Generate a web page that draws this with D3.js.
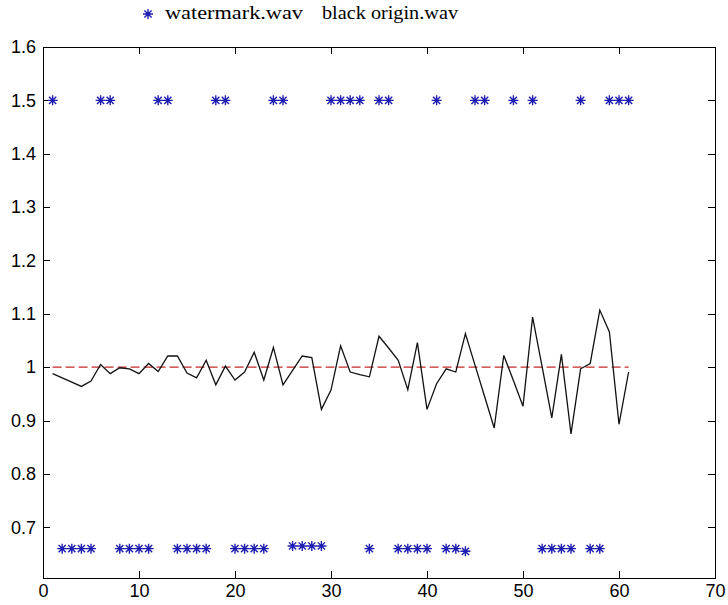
<!DOCTYPE html>
<html>
<head>
<meta charset="utf-8">
<script src="https://cdn.jsdelivr.net/npm/d3@7"></script>
<style>
  body { margin: 0; background: #fff; }
  .tick text { font-family: "Liberation Sans", Arial, sans-serif; font-size: 18px; fill: #000; }
</style>
</head>
<body>
<div id="chart"></div>
<script>
// black curve: one value per frame, frames 1..61
const ratio = [
  0.988, 0.980, 0.972, 0.964, 0.974, 1.005, 0.988, 0.999, 0.997, 0.988,
  1.007, 0.992, 1.021, 1.021, 0.989, 0.980, 1.013, 0.967, 1.002, 0.976,
  0.991, 1.028, 0.976, 1.037, 0.967, 0.994, 1.021, 1.018, 0.921, 0.957,
  1.040, 0.991, 0.986, 0.982, 1.058, 1.036, 1.013, 0.958, 1.046, 0.921,
  0.969, 0.997, 0.991, 1.063, 1.004, 0.945, 0.886, 1.022, 0.975, 0.927,
  1.094, 1.000, 0.905, 1.024, 0.875, 0.997, 1.007, 1.107, 1.066, 0.893,
  0.991
];
// red reference line
const refLevel = 1.0;
const refStart = 1, refEnd = 61;

// blue stars (upper row)
const topStarX = [1, 6, 7, 12, 13, 18, 19, 24, 25, 30, 31, 32, 33, 35, 36, 41, 45, 46, 49, 51, 56, 59, 60, 61];
const topStarY = 1.5;
// blue stars (lower row)
const bottomStarX = [2, 3, 4, 5, 8, 9, 10, 11, 14, 15, 16, 17, 20, 21, 22, 23, 26, 27, 28, 29, 34, 37, 38, 39, 40, 42, 43, 44, 52, 53, 54, 55, 57, 58];
const bottomStarY = [0.66, 0.66, 0.66, 0.66, 0.66, 0.66, 0.66, 0.66, 0.66, 0.66, 0.66, 0.66, 0.66, 0.66, 0.66, 0.66,
  0.665, 0.665, 0.665, 0.665, 0.66, 0.66, 0.66, 0.66, 0.66, 0.66, 0.66, 0.655, 0.66, 0.66, 0.66, 0.66, 0.66, 0.66];

const xTicks = [0, 10, 20, 30, 40, 50, 60, 70];
const yTicks = [0.7, 0.8, 0.9, 1, 1.1, 1.2, 1.3, 1.4, 1.5, 1.6];
const legendLabels = ["watermark.wav", "black origin.wav"];

let width = 728,
  height = 605;
let margin = { top: 47, right: 13, bottom: 27, left: 43 };

let svg = d3
  .select("#chart")
  .append("svg")
  .attr("width", width)
  .attr("height", height);

let x = d3.scaleLinear().domain([0, 70]).range([margin.left, width - margin.right]);
let y = d3.scaleLinear().domain([0.605, 1.6]).range([height - margin.bottom, margin.top]);

// axes box, ticks pointing inward like matlab
svg
  .append("g")
  .attr("transform", `translate(0,${height - margin.bottom})`)
  .call(d3.axisBottom(x).tickValues(xTicks).tickSize(-7).tickSizeOuter(0).tickPadding(6).tickFormat(d3.format("d")));
svg
  .append("g")
  .attr("transform", `translate(0,${margin.top})`)
  .call(d3.axisTop(x).tickValues(xTicks).tickSize(-7).tickSizeOuter(0).tickFormat(""));
svg
  .append("g")
  .attr("transform", `translate(${margin.left},0)`)
  .call(d3.axisLeft(y).tickValues(yTicks).tickSize(-7).tickSizeOuter(0).tickPadding(7).tickFormat((d) => String(+d.toFixed(1))));
svg
  .append("g")
  .attr("transform", `translate(${width - margin.right},0)`)
  .call(d3.axisRight(y).tickValues(yTicks).tickSize(-7).tickSizeOuter(0).tickFormat(""));

svg.selectAll(".domain, .tick line").attr("stroke", "#000").attr("shape-rendering", "crispEdges");

// red dashed reference
svg
  .append("line")
  .attr("x1", x(refStart))
  .attr("x2", x(refEnd))
  .attr("y1", y(refLevel))
  .attr("y2", y(refLevel))
  .attr("stroke", "#c42a2a")
  .attr("stroke-width", 1.3)
  .attr("stroke-dasharray", "9,4");

// black curve
let line = d3
  .line()
  .x((d, i) => x(i + 1))
  .y((d) => y(d));
svg
  .append("path")
  .datum(ratio)
  .attr("d", line)
  .attr("fill", "none")
  .attr("stroke", "#111")
  .attr("stroke-width", 1.3);

// star marker
const star = "M-5,0H5M0,-5V5M-3.6,-3.6L3.6,3.6M-3.6,3.6L3.6,-3.6";
const starColor = "#1c1cb0";

svg
  .selectAll(".topstar")
  .data(topStarX)
  .join("path")
  .attr("class", "topstar")
  .attr("d", star)
  .attr("transform", (d) => `translate(${x(d)},${y(topStarY)})`)
  .attr("stroke", starColor)
  .attr("stroke-width", 1.4)
  .attr("fill", "none");

svg
  .selectAll(".botstar")
  .data(bottomStarX)
  .join("path")
  .attr("class", "botstar")
  .attr("d", star)
  .attr("transform", (d, i) => `translate(${x(d)},${y(bottomStarY[i])})`)
  .attr("stroke", starColor)
  .attr("stroke-width", 1.4)
  .attr("fill", "none");

// legend on top
svg
  .append("path")
  .attr("d", star)
  .attr("transform", "translate(148,14)")
  .attr("stroke", starColor)
  .attr("stroke-width", 1.4)
  .attr("fill", "none");

svg
  .selectAll(".legend")
  .data(legendLabels)
  .join("text")
  .attr("class", "legend")
  .attr("x", (d, i) => (i == 0 ? 165 : 322))
  .attr("y", 19)
  .attr("textLength", (d, i) => (i == 0 ? 138 : 136))
  .attr("lengthAdjust", "spacingAndGlyphs")
  .style("font-family", '"Liberation Serif", "Times New Roman", serif')
  .style("font-size", "18px")
  .text((d) => d);
</script>
</body>
</html>
